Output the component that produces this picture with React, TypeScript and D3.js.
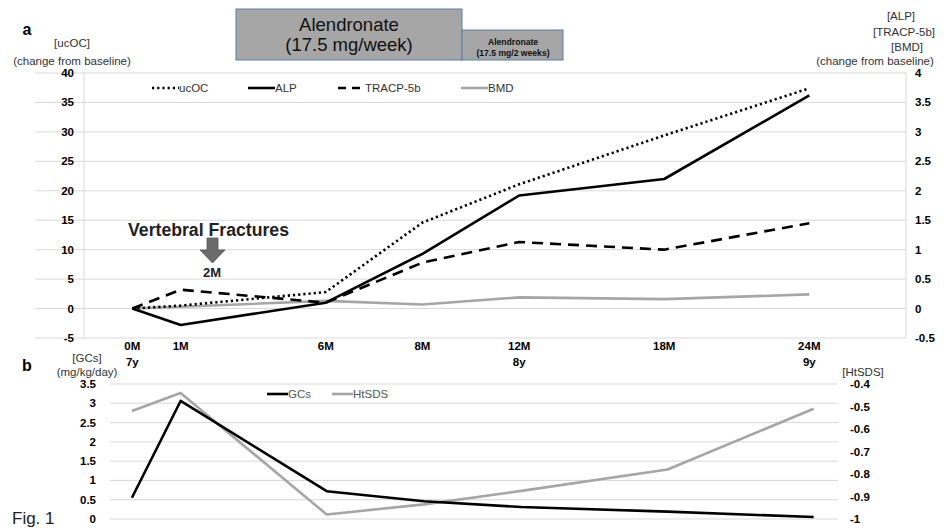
import React, { useEffect, useRef } from "react";
import * as d3 from "d3";

// ---- data ----
const timeLabels = ["0M", "1M", "6M", "8M", "12M", "18M", "24M"];
const ageLabels = ["7y", "", "", "", "8y", "", "9y"];
// slot of each visit on the category axis
const timeSlots = [0, 1, 4, 6, 8, 11, 14];

const ucOC = [0, 0.5, 2.8, 14.6, 21.1, 29.4, 37.4];
const alp = [0, -0.28, 0.1, 0.93, 1.92, 2.2, 3.62];
const tracp = [0, 0.32, 0.1, 0.78, 1.13, 1.0, 1.45];
const bmd = [0, 0.03, 0.13, 0.07, 0.19, 0.16, 0.24];

const gcs = [0.55, 3.06, 0.72, 0.46, 0.31, 0.19, 0.05];
const htsds = [-0.52, -0.44, -0.98, -0.935, -0.875, -0.78, -0.51];

const leftTicksA = [-5, 0, 5, 10, 15, 20, 25, 30, 35, 40];
const rightTicksA = [-0.5, 0, 0.5, 1, 1.5, 2, 2.5, 3, 3.5, 4];
const leftTicksB = [0, 0.5, 1, 1.5, 2, 2.5, 3, 3.5];
const rightTicksB = [-1, -0.9, -0.8, -0.7, -0.6, -0.5, -0.4];

const FONT = "'Liberation Sans', Arial, sans-serif";
const GRID = "#d9d9d9";
const GRAY = "#a6a6a6";

export default function App() {
    const ref = useRef<SVGSVGElement>(null);

    useEffect(() => {
        document.body.style.margin = "0";
        const svg = d3.select(ref.current);
        svg.selectAll("*").remove();
        svg.attr("font-family", FONT);

        // ==========================
        // Panel a
        // ==========================
        const xA = d3.scaleLinear().domain([-1, 16]).range([84, 906]);
        const yL = d3.scaleLinear().domain([-5, 40]).range([338, 73]);
        const yR = d3.scaleLinear().domain([-0.5, 4]).range([338, 73]);

        svg.append("g").selectAll("line")
            .data(leftTicksA)
            .enter()
            .append("line")
            .attr("x1", 35).attr("x2", 906)
            .attr("y1", d => yL(d)).attr("y2", d => yL(d))
            .attr("stroke", GRID);

        [84, 906].forEach(x => {
            svg.append("line")
                .attr("x1", x).attr("x2", x)
                .attr("y1", yL(40)).attr("y2", yL(-5))
                .attr("stroke", GRID);
        });

        svg.append("g").selectAll("text")
            .data(leftTicksA)
            .enter()
            .append("text")
            .attr("x", 74)
            .attr("y", d => yL(d))
            .attr("dy", "0.35em")
            .attr("text-anchor", "end")
            .attr("font-size", 11.5)
            .attr("font-weight", "bold")
            .text(d => String(d));

        svg.append("g").selectAll("text")
            .data(rightTicksA)
            .enter()
            .append("text")
            .attr("x", 915)
            .attr("y", d => yR(d))
            .attr("dy", "0.35em")
            .attr("font-size", 11.5)
            .attr("font-weight", "bold")
            .text(d => String(d));

        const xlab = svg.append("g");
        timeLabels.forEach((t, i) => {
            xlab.append("text")
                .attr("x", xA(timeSlots[i]))
                .attr("y", 350)
                .attr("text-anchor", "middle")
                .attr("font-size", 11.5)
                .attr("font-weight", "bold")
                .text(t);
            if (ageLabels[i]) {
                xlab.append("text")
                    .attr("x", xA(timeSlots[i]))
                    .attr("y", 366)
                    .attr("text-anchor", "middle")
                    .attr("font-size", 11.5)
                    .attr("font-weight", "bold")
                    .text(ageLabels[i]);
            }
        });

        const seriesA = [
            { name: "ucOC", values: ucOC, y: yL, color: "#000", dash: "2.2,3", lx: 152 },
            { name: "ALP", values: alp, y: yR, color: "#000", dash: null, lx: 248 },
            { name: "TRACP-5b", values: tracp, y: yR, color: "#000", dash: "11,7", lx: 338 },
            { name: "BMD", values: bmd, y: yR, color: GRAY, dash: null, lx: 461 }
        ];

        seriesA.slice().reverse().forEach(s => {
            const line = d3.line<number>()
                .x((d, i) => xA(timeSlots[i]))
                .y(d => s.y(d));
            svg.append("path")
                .attr("d", line(s.values))
                .attr("fill", "none")
                .attr("stroke", s.color)
                .attr("stroke-width", 2.6)
                .attr("stroke-dasharray", s.dash)
                .attr("stroke-linejoin", "round");
        });

        // legend a
        seriesA.forEach(s => {
            svg.append("line")
                .attr("x1", s.lx).attr("x2", s.lx + 27)
                .attr("y1", 88).attr("y2", 88)
                .attr("stroke", s.color)
                .attr("stroke-width", 2.6)
                .attr("stroke-dasharray", s.name === "TRACP-5b" ? "8,6" : s.dash);
            svg.append("text")
                .attr("x", s.lx + 27)
                .attr("y", 88)
                .attr("dy", "0.35em")
                .attr("font-size", 11.5)
                .attr("fill", "#333")
                .text(s.name);
        });

        // axis titles a
        const titleL = [["[ucOC]", 43], ["(change from baseline)", 61]];
        titleL.forEach(([t, y]) => {
            svg.append("text")
                .attr("x", 72).attr("y", y as number).attr("dy", "0.35em")
                .attr("text-anchor", "middle")
                .attr("font-size", 11.5)
                .attr("fill", "#333")
                .text(t as string);
        });
        const titleR: [string, number, number][] = [
            ["[ALP]", 901, 16],
            ["[TRACP-5b]", 904, 32],
            ["[BMD]", 907, 47],
            ["(change from baseline)", 875, 61]
        ];
        titleR.forEach(([t, x, y]) => {
            svg.append("text")
                .attr("x", x).attr("y", y).attr("dy", "0.35em")
                .attr("text-anchor", "middle")
                .attr("font-size", 11.5)
                .attr("fill", "#333")
                .text(t);
        });

        svg.append("text")
            .attr("x", 27).attr("y", 29).attr("dy", "0.35em")
            .attr("text-anchor", "middle")
            .attr("font-size", 16)
            .attr("font-weight", "bold")
            .text("a");

        // treatment boxes
        svg.append("rect")
            .attr("x", 236).attr("y", 9).attr("width", 226).attr("height", 51)
            .attr("fill", GRAY).attr("stroke", "#5a7ea6").attr("stroke-width", 1);
        svg.append("rect")
            .attr("x", 462).attr("y", 30).attr("width", 101).attr("height", 30)
            .attr("fill", GRAY).attr("stroke", "#5a7ea6").attr("stroke-width", 1);
        [["Alendronate", 25], ["(17.5 mg/week)", 45]].forEach(([t, y]) => {
            svg.append("text")
                .attr("x", 349).attr("y", y as number).attr("dy", "0.35em")
                .attr("text-anchor", "middle")
                .attr("font-size", 18.5)
                .attr("fill", "#111")
                .text(t as string);
        });
        [["Alendronate", 41.5], ["(17.5 mg/2 weeks)", 53]].forEach(([t, y]) => {
            svg.append("text")
                .attr("x", 513).attr("y", y as number).attr("dy", "0.35em")
                .attr("text-anchor", "middle")
                .attr("font-size", 8.6)
                .attr("font-weight", "bold")
                .attr("fill", "#111")
                .text(t as string);
        });

        // fracture annotation
        svg.append("text")
            .attr("x", 128).attr("y", 236)
            .attr("font-size", 17.5)
            .attr("font-weight", "bold")
            .attr("fill", "#222")
            .attr("textLength", 161)
            .attr("lengthAdjust", "spacingAndGlyphs")
            .text("Vertebral Fractures");
        svg.append("path")
            .attr("d", "M207,238 L218,238 L218,250 L225,250 L212.5,263 L200,250 L207,250 Z")
            .attr("fill", "#6b6b6b")
            .attr("stroke", "#555")
            .attr("stroke-width", 0.8);
        svg.append("text")
            .attr("x", 212).attr("y", 272).attr("dy", "0.35em")
            .attr("text-anchor", "middle")
            .attr("font-size", 13)
            .attr("font-weight", "bold")
            .attr("fill", "#222")
            .text("2M");

        // ==========================
        // Panel b
        // ==========================
        const xB = d3.scaleLinear().domain([-0.45, 14.5]).range([110, 838]);
        const yBL = d3.scaleLinear().domain([0, 3.5]).range([519, 384]);
        const yBR = d3.scaleLinear().domain([-1, -0.4]).range([519, 384]);

        svg.append("g").selectAll("line")
            .data(leftTicksB)
            .enter()
            .append("line")
            .attr("x1", 110).attr("x2", 838)
            .attr("y1", d => yBL(d)).attr("y2", d => yBL(d))
            .attr("stroke", GRID);

        svg.append("g").selectAll("text")
            .data(leftTicksB)
            .enter()
            .append("text")
            .attr("x", 96)
            .attr("y", d => yBL(d))
            .attr("dy", "0.35em")
            .attr("text-anchor", "end")
            .attr("font-size", 11.5)
            .attr("font-weight", "bold")
            .text(d => String(d));

        svg.append("g").selectAll("text")
            .data(rightTicksB)
            .enter()
            .append("text")
            .attr("x", 850)
            .attr("y", d => yBR(d))
            .attr("dy", "0.35em")
            .attr("font-size", 11.5)
            .attr("font-weight", "bold")
            .text(d => String(d));

        const seriesB = [
            { name: "GCs", values: gcs, y: yBL, color: "#000", lx: 267 },
            { name: "HtSDS", values: htsds, y: yBR, color: GRAY, lx: 332 }
        ];
        seriesB.slice().reverse().forEach(s => {
            const line = d3.line<number>()
                .x((d, i) => xB(timeSlots[i]))
                .y(d => s.y(d));
            svg.append("path")
                .attr("d", line(s.values))
                .attr("fill", "none")
                .attr("stroke", s.color)
                .attr("stroke-width", 2.6)
                .attr("stroke-linejoin", "round");
        });
        seriesB.forEach(s => {
            svg.append("line")
                .attr("x1", s.lx).attr("x2", s.lx + 21)
                .attr("y1", 394).attr("y2", 394)
                .attr("stroke", s.color)
                .attr("stroke-width", 2.6);
            svg.append("text")
                .attr("x", s.lx + 21)
                .attr("y", 394)
                .attr("dy", "0.35em")
                .attr("font-size", 11.5)
                .attr("fill", "#555")
                .text(s.name);
        });

        [["[GCs]", 358], ["(mg/kg/day)", 372]].forEach(([t, y]) => {
            svg.append("text")
                .attr("x", 87).attr("y", y as number).attr("dy", "0.35em")
                .attr("text-anchor", "middle")
                .attr("font-size", 11.5)
                .attr("fill", "#333")
                .text(t as string);
        });
        svg.append("text")
            .attr("x", 863).attr("y", 372).attr("dy", "0.35em")
            .attr("text-anchor", "middle")
            .attr("font-size", 11.5)
            .attr("fill", "#333")
            .text("[HtSDS]");

        svg.append("text")
            .attr("x", 27).attr("y", 365).attr("dy", "0.35em")
            .attr("text-anchor", "middle")
            .attr("font-size", 16)
            .attr("font-weight", "bold")
            .text("b");

        svg.append("text")
            .attr("x", 12).attr("y", 518).attr("dy", "0.35em")
            .attr("font-size", 17)
            .attr("fill", "#222")
            .text("Fig. 1");
    }, []);

    return <svg ref={ref} width={944} height={528} style={{ display: "block", background: "#fff" }} />;
}
